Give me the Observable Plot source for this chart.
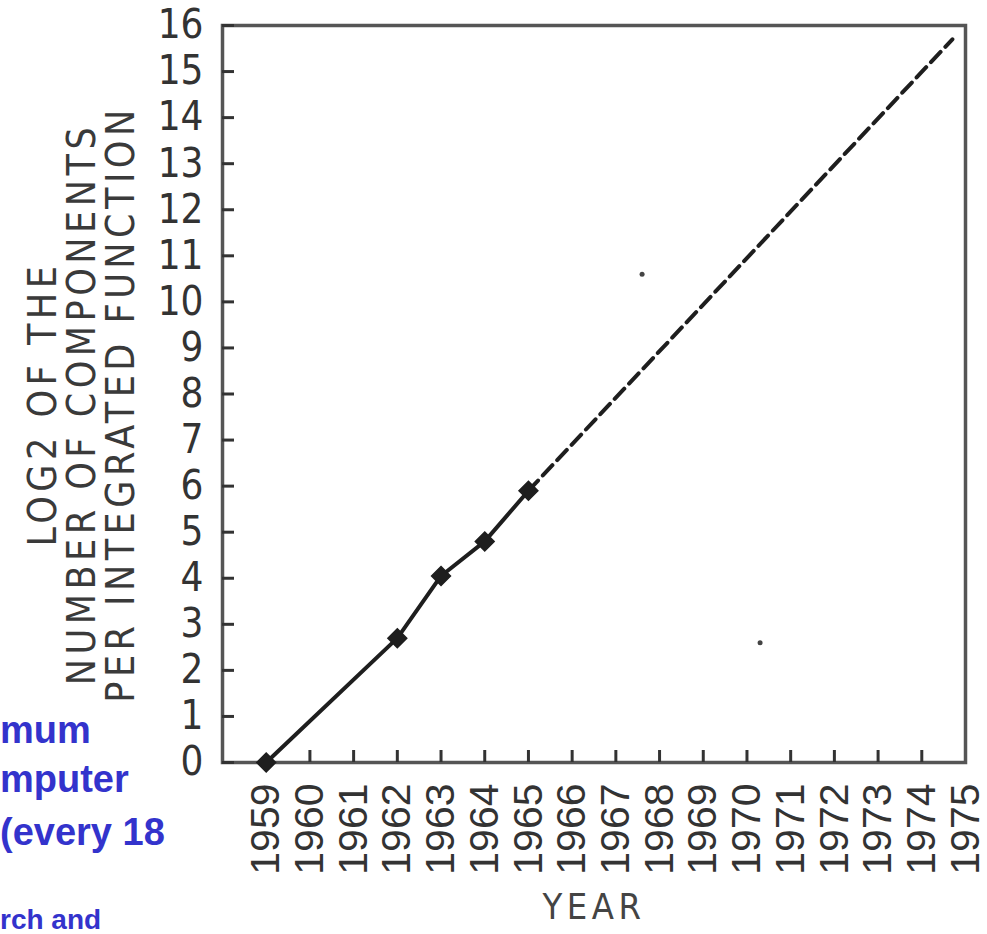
<!DOCTYPE html>
<html><head><meta charset="utf-8">
<script src="https://cdn.jsdelivr.net/npm/d3@7"></script>
<script src="https://cdn.jsdelivr.net/npm/@observablehq/plot@0.6"></script>
<style>
body{margin:0;background:#fff;width:987px;height:934px;overflow:hidden;position:relative}
#chart{position:absolute;left:0;top:0}
#blurb{position:absolute;left:0;top:0;pointer-events:none}
#chart g[aria-label="text"] text{letter-spacing:4.5px}
</style></head><body>
<div id="chart"></div>
<svg id="blurb" width="987" height="934"></svg>
<script>
// Measured points: log2 of number of components per integrated function
const years = [1959, 1962, 1963, 1964, 1965];
const log2Components = [0, 2.7, 4.05, 4.8, 5.9];
// Dashed extrapolation
const extrapolationYears = [1965, 1974.7];
const extrapolationValues = [5.9, 15.7];
// Scan specks
const speckYears = [1967.6, 1970.3];
const speckValues = [10.6, 2.6];
// Axis ticks
const yearTicks = [1959,1960,1961,1962,1963,1964,1965,1966,1967,1968,1969,1970,1971,1972,1973,1974,1975];
const innerYearTicks = yearTicks.slice(1, -1);
const valueTicks = [0,1,2,3,4,5,6,7,8,9,10,11,12,13,14,15,16];
const yTitleLines = ["LOG2 OF THE", "NUMBER OF COMPONENTS", "PER INTEGRATED FUNCTION"];
const xTitle = "YEAR";
const blurbLines = ["mum", "mputer", "(every 18", "rch and"];

const points = years.map((year, i) => ({year, value: log2Components[i]}));
const extrapolation = extrapolationYears.map((year, i) => ({year, value: extrapolationValues[i]}));
const specks = speckYears.map((year, i) => ({year, value: speckValues[i]}));

const ink = "#1e1e1e";
const titleFont = "'DejaVu Sans Condensed', 'DejaVu Sans', sans-serif";
const narrowFont = "'Liberation Sans Narrow', 'DejaVu Sans Condensed', sans-serif";

const chart = Plot.plot({
  width: 987, height: 934,
  marginLeft: 222, marginRight: 22, marginTop: 25, marginBottom: 172,
  style: {background: "white", fontFamily: "'Liberation Sans', Arial, sans-serif", color: "#333"},
  x: {domain: [1958, 1975]},
  y: {domain: [0, 16]},
  marks: [
    Plot.frame({stroke: "#555", strokeWidth: 3.5}),
    Plot.axisY(valueTicks, {tickSize: -12, tickPadding: 31, fontSize: 40, fontFamily: narrowFont, stroke: "#333", strokeWidth: 3, fill: "#333", label: null, tickFormat: "d"}),
    Plot.axisX(innerYearTicks, {tickSize: -12, fill: "none", stroke: "#333", strokeWidth: 3, label: null}),
    Plot.axisX(yearTicks, {tickSize: 0, tickRotate: -90, tickPadding: 21, fontSize: 41, fill: "#333", tickFormat: "d", label: null}),
    Plot.text([xTitle], {text: d => d, frameAnchor: "bottom", lineAnchor: "top", dy: 131, fontSize: 36, fontFamily: titleFont, fill: "#444"}),
    ...yTitleLines.map((line, i) => Plot.text([line], {
      text: d => d, frameAnchor: "left", textAnchor: "middle", rotate: -90, dx: -179 + i * 39, dy: 10,
      fontSize: 39, fontFamily: titleFont, fill: "#3a3a3a"
    })),
    Plot.line(extrapolation, {x: "year", y: "value", stroke: ink, strokeWidth: 4, strokeDasharray: "14,7"}),
    Plot.line(points, {x: "year", y: "value", stroke: ink, strokeWidth: 4}),
    Plot.dot(points, {x: "year", y: "value", symbol: "diamond2", r: 8.5, fill: ink, stroke: ink}),
    Plot.dot(specks, {x: "year", y: "value", r: 2.5, fill: "#444"})
  ]
});
document.getElementById("chart").append(chart);

// Partially visible slide text in blue, left edge
const blurb = d3.select("#blurb");
const blurbSizes = [38, 38, 38, 28];
const blurbBaselines = [743, 792, 845, 929];
blurbLines.forEach((t, i) => {
  blurb.append("text").attr("x", 0).attr("y", blurbBaselines[i])
    .attr("font-family", "'Liberation Sans', Arial, sans-serif").attr("font-weight", "bold")
    .attr("font-size", blurbSizes[i]).attr("fill", "#3333cc").text(t);
});
</script>
</body></html>
